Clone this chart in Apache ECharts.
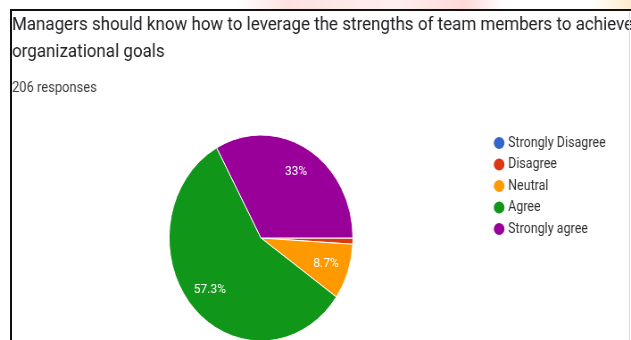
<!DOCTYPE html>
<html>
<head>
<meta charset="utf-8">
<script src="https://cdn.jsdelivr.net/npm/echarts@6/dist/echarts.min.js"></script>
<style>
  html, body { margin: 0; padding: 0; background: #fff; }
  #wrap { position: relative; width: 631px; height: 340px; overflow: hidden; background: #fff; }
  #chart { position: absolute; left: 0; top: 0; width: 707px; height: 340px; transform: scaleX(0.8925); transform-origin: 0 0; }
  #frame { position: absolute; left: 10px; top: 9px; width: 640px; height: 360px; border-top: 2px solid #111; border-left: 2px solid #111; pointer-events: none; }
  #rline { position: absolute; left: 629px; top: 12px; width: 1px; height: 330px; background: #ddd; }
  #wm1 { position: absolute; left: 235px; top: 0; width: 270px; height: 9px; background: linear-gradient(90deg, rgba(255,200,200,0) 0%, rgba(250,170,170,0.35) 20%, rgba(250,190,190,0.25) 60%, rgba(250,160,160,0.4) 85%, rgba(255,200,200,0) 100%); }
  #wm2 { position: absolute; left: 590px; top: 0; width: 41px; height: 9px; background: linear-gradient(90deg, rgba(255,230,190,0) 0%, rgba(250,215,160,0.5) 100%); }
</style>
</head>
<body>
<div id="wrap">
  <div id="wm1"></div>
  <div id="wm2"></div>
  <div id="chart"></div>
  <div id="frame"></div>
  <div id="rline"></div>
</div>
<script>
const titleText = 'Managers should know how to leverage the strengths of team members to achieve\norganizational goals';
const subtitleText = '206 responses';
const categories = ['Strongly Disagree', 'Disagree', 'Neutral', 'Agree', 'Strongly agree'];
const counts = [0, 2, 18, 118, 68];
const colors = ['#3366cc', '#dc3912', '#ff9900', '#109618', '#990099'];

const SX = 0.8925;
const chart = echarts.init(document.getElementById('chart'), null, { renderer: 'canvas' });
const pieData = categories.map((c, i) => ({ name: c, value: counts[i], itemStyle: { color: colors[i] } }));
const labelData = categories.map((c, i) => ({ name: c, value: counts[i] }));
const center = [261 / SX, 238];
const R = 103;

chart.setOption({
  animation: false,
  backgroundColor: 'rgba(0,0,0,0)',
  title: {
    text: titleText,
    subtext: subtitleText,
    left: 12 / SX,
    top: 12,
    padding: 0,
    itemGap: 15,
    textStyle: { fontFamily: 'Roboto', fontSize: 19, fontWeight: 'normal', color: '#202124', lineHeight: 27 },
    subtextStyle: { fontFamily: 'Roboto', fontSize: 14.5, color: '#3c3c3c' }
  },
  legend: {
    orient: 'vertical',
    left: 492 / SX,
    top: 135,
    padding: 0,
    icon: 'circle',
    itemWidth: 14,
    itemHeight: 14,
    itemGap: 5.5,
    selectedMode: false,
    textStyle: { fontFamily: 'Roboto', fontSize: 14, color: '#333', padding: [0, 0, 0, -2] },
    data: categories.map((c, i) => ({ name: c, itemStyle: { color: colors[i] } }))
  },
  series: [
    {
      type: 'pie',
      center: center,
      radius: [0, R],
      startAngle: 0,
      clockwise: true,
      stillShowZeroSum: true,
      avoidLabelOverlap: false,
      label: { show: false },
      labelLine: { show: false },
      itemStyle: { borderColor: '#fff', borderWidth: 1 },
      emphasis: { disabled: true },
      data: pieData
    },
    {
      type: 'pie',
      center: center,
      radius: [0, R * 1.44],
      startAngle: 0,
      clockwise: true,
      silent: true,
      avoidLabelOverlap: false,
      itemStyle: { color: 'rgba(0,0,0,0)', borderWidth: 0 },
      emphasis: { disabled: true },
      labelLine: { show: false },
      label: {
        show: true,
        position: 'inside',
        fontFamily: 'Roboto',
        fontSize: 13.5,
        color: '#fff',
        formatter: p => p.percent < 5 ? '' : (+p.percent.toFixed(1)) + '%'
      },
      data: labelData
    }
  ]
});
</script>
</body>
</html>
